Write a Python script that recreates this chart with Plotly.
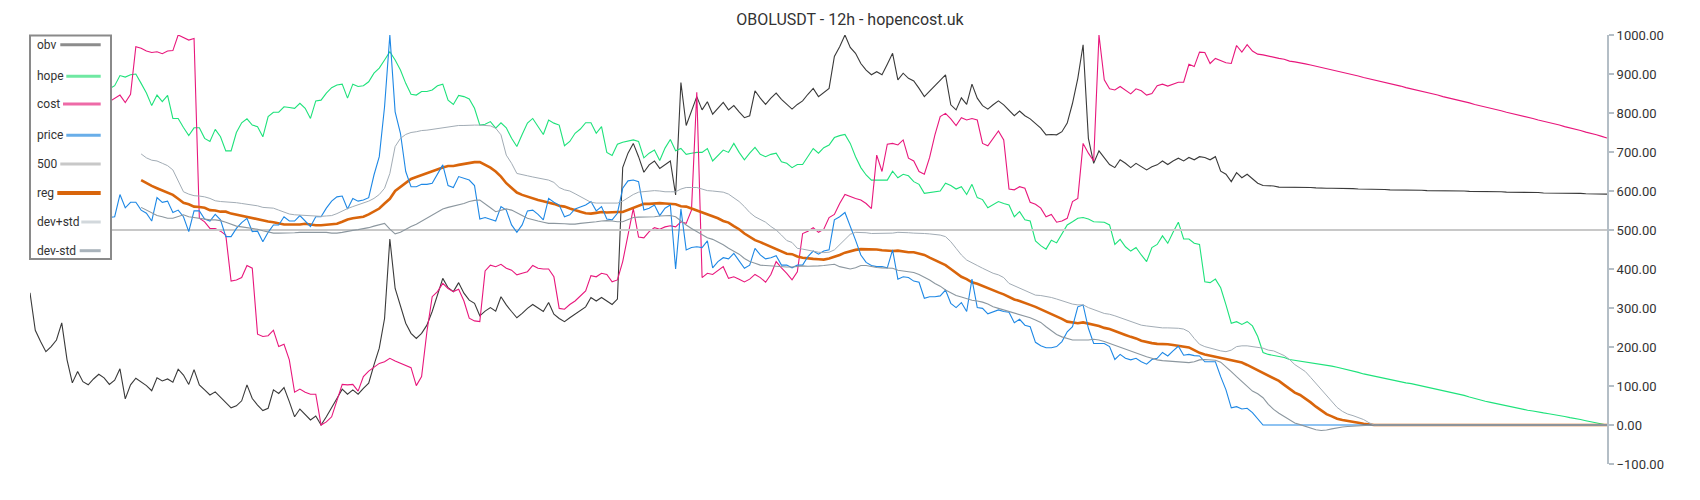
import plotly.graph_objects as go

N = 299
x_index = list(range(N))

obv = [
    339, 243, 214, 188, 201, 218, 262, 167, 108, 137,
    111, 103, 118, 130, 121, 104, 115, 144, 67, 103,
    120, 110, 101, 88, 121, 113, 118, 110, 143, 128,
    104, 142, 103, 90, 77, 85, 71, 56, 44, 49,
    62, 103, 68, 51, 37, 43, 90, 81, 96, 60,
    21, 41, 26, 13, 23, 0, 21, 43, 68, 92,
    79, 90, 79, 94, 107, 154, 197, 273, 477, 350,
    308, 261, 235, 222, 235, 256, 291, 333, 376, 352,
    342, 365, 338, 320, 312, 280, 292, 301, 292, 329,
    308, 291, 275, 286, 299, 309, 299, 291, 314, 284,
    273, 265, 275, 284, 292, 303, 327, 318, 327, 318,
    309, 323, 660, 697, 722, 688, 648, 667, 677, 658,
    667, 677, 590, 878, 768, 803, 842, 808, 829, 797,
    812, 827, 808, 819, 803, 788, 793, 857, 838, 822,
    838, 851, 835, 822, 810, 822, 831, 848, 863, 842,
    853, 863, 945, 970, 1000, 968, 953, 927, 910, 898,
    906, 898, 925, 953, 885, 902, 889, 882, 863, 842,
    856, 870, 885, 898, 821, 808, 839, 822, 874, 838,
    819, 810, 821, 831, 821, 808, 793, 805, 793, 785,
    774, 761, 744, 745, 744, 752, 774, 825, 889, 975,
    735, 671, 703, 684, 668, 660, 680, 671, 660, 671,
    662, 654, 662, 667, 677, 668, 677, 684, 677, 686,
    680, 688, 686, 680, 688, 651, 643, 624, 647, 634,
    643, 631, 620, 614, 614, 613, 610, 610, 610, 610,
    609, 609, 609, 608, 607, 607, 607, 607, 606, 606,
    606, 605, 605, 604, 604, 604, 604, 603, 603, 603,
    603, 602, 602, 602, 601, 601, 601, 601, 600, 600,
    600, 600, 599, 599, 599, 598, 598, 598, 598, 597,
    597, 597, 596, 596, 596, 596, 595, 595, 595, 595,
    594, 594, 594, 594, 593, 593, 593, 592, 592,
]

hope = [
    850, 862, 871, 858, 866, 880, 868, 875, 860, 852,
    866, 872, 858, 864, 870, 862, 870, 896, 892, 898,
    900, 876, 851, 819, 846, 829, 845, 786, 786, 763,
    742, 762, 762, 735, 727, 758, 739, 703, 703, 750,
    775, 785, 769, 765, 739, 791, 802, 802, 816, 814,
    812, 825, 812, 786, 831, 833, 851, 865, 872, 874,
    838, 874, 868, 870, 880, 902, 915, 936, 957, 936,
    910, 876, 848, 846, 855, 855, 859, 870, 874, 833,
    822, 845, 842, 836, 812, 769, 771, 778, 761, 775,
    762, 735, 714, 745, 774, 786, 765, 745, 782, 774,
    769, 716, 727, 748, 759, 775, 775, 748, 765, 699,
    691, 720, 725, 728, 731, 727, 685, 697, 705, 678,
    710, 732, 703, 709, 694, 697, 699, 699, 709, 677,
    691, 705, 699, 722, 699, 680, 697, 712, 694, 688,
    694, 697, 675, 671, 660, 668, 668, 688, 709, 697,
    711, 718, 737, 742, 745, 722, 688, 660, 641, 628,
    628, 627, 628, 651, 634, 643, 639, 624, 617, 594,
    596, 598, 600, 620, 614, 605, 611, 591, 617, 583,
    578, 557, 564, 573, 568, 564, 534, 547, 526, 523,
    472, 460, 451, 474, 467, 489, 513, 521, 530, 532,
    528, 521, 521, 520, 513, 463, 476, 457, 446, 455,
    436, 419, 455, 463, 485, 466, 494, 520, 477, 477,
    466, 463, 367, 365, 374, 352, 308, 261, 265, 258,
    265, 254, 227, 186, 181, 178, 175, 173, 168, 166,
    164, 161, 159, 157, 156, 154, 151, 148, 145, 142,
    139, 135, 131, 128, 125, 122, 119, 116, 114, 111,
    108, 106, 103, 101, 98, 95, 92, 88, 85, 82,
    79, 76, 72, 68, 64, 61, 58, 55, 52, 50,
    47, 44, 41, 38, 36, 33, 31, 29, 27, 25,
    22, 19, 17, 14, 11, 8, 5, 2, 0,
]

cost = [
    840, 846, 852, 838, 845, 850, 842, 836, 844, 838,
    832, 840, 845, 830, 836, 829, 838, 846, 827, 848,
    970, 966, 959, 955, 957, 952, 959, 960, 1000, 993,
    987, 991, 530, 521, 504, 504, 497, 487, 369, 372,
    378, 409, 402, 233, 227, 229, 243, 201, 207, 167,
    84, 92, 84, 79, 79, 0, 8, 21, 62, 104,
    103, 104, 87, 124, 138, 147, 158, 162, 171, 164,
    158, 154, 147, 101, 124, 239, 329, 342, 363, 350,
    342, 348, 318, 274, 267, 265, 395, 410, 406, 412,
    402, 397, 385, 389, 393, 409, 402, 400, 400, 380,
    299, 297, 309, 318, 332, 344, 383, 380, 389, 386,
    367, 372, 419, 487, 555, 482, 480, 496, 506, 502,
    508, 511, 508, 521, 517, 551, 853, 378, 389, 386,
    395, 406, 376, 380, 374, 367, 374, 386, 378, 366,
    386, 419, 403, 389, 372, 393, 491, 497, 506, 494,
    502, 532, 540, 568, 591, 585, 581, 577, 568, 555,
    692, 650, 720, 722, 718, 731, 684, 677, 650, 643,
    686, 744, 791, 799, 785, 768, 788, 782, 786, 782,
    722, 716, 735, 754, 731, 605, 603, 611, 607, 571,
    566, 556, 534, 540, 520, 523, 530, 573, 581, 722,
    697, 677, 1000, 885, 862, 859, 868, 859, 849, 862,
    857, 846, 850, 870, 874, 869, 874, 879, 879, 925,
    919, 956, 955, 927, 940, 934, 929, 927, 973, 956,
    975, 959, 951, 949, 946, 942, 940, 938, 933, 931,
    929, 926, 923, 920, 917, 914, 911, 908, 904, 901,
    898, 895, 891, 888, 885, 882, 878, 875, 872, 869,
    865, 862, 859, 856, 852, 849, 846, 842, 839, 836,
    832, 829, 826, 822, 819, 816, 812, 809, 806, 802,
    799, 796, 792, 789, 786, 782, 779, 776, 772, 769,
    765, 762, 758, 755, 751, 748, 744, 740, 736,
]

price = [
    545, 538, 552, 560, 548, 541, 556, 549, 538, 545,
    552, 540, 535, 533, 530, 532, 534, 591, 557, 571,
    571, 551, 543, 523, 583, 571, 574, 545, 551, 534,
    496, 549, 549, 528, 523, 540, 526, 483, 483, 504,
    519, 530, 496, 497, 470, 494, 513, 513, 534, 523,
    523, 537, 523, 509, 534, 534, 556, 574, 585, 587,
    554, 581, 574, 577, 583, 641, 688, 816, 1000, 803,
    748, 650, 611, 611, 617, 617, 620, 643, 667, 614,
    609, 637, 632, 628, 614, 528, 532, 528, 523, 560,
    551, 513, 494, 513, 549, 551, 540, 526, 581, 571,
    564, 534, 539, 554, 560, 564, 573, 549, 560, 528,
    526, 543, 607, 626, 628, 624, 551, 556, 564, 537,
    556, 564, 400, 554, 449, 455, 457, 455, 472, 403,
    419, 429, 426, 440, 421, 402, 410, 453, 436, 426,
    429, 434, 410, 410, 403, 410, 410, 432, 446, 438,
    446, 449, 526, 534, 545, 511, 474, 436, 417, 409,
    406, 406, 403, 449, 374, 380, 378, 369, 366, 325,
    329, 329, 331, 346, 312, 301, 314, 291, 374, 301,
    299, 285, 291, 295, 291, 289, 262, 271, 256, 252,
    212, 203, 198, 198, 201, 214, 239, 252, 303, 308,
    248, 209, 209, 209, 201, 168, 181, 171, 167, 171,
    162, 156, 168, 171, 186, 177, 190, 202, 179, 181,
    178, 177, 162, 162, 162, 124, 90, 44, 47, 41,
    43, 32, 15,
] + [0] * 66

level_500 = [500] * N

reg = [None] * 21 + [
    628, 620, 613, 607, 602, 597, 590, 580, 570,
    566, 560, 559, 557, 551, 550, 547, 547, 542, 539,
    536, 533, 530, 527, 525, 522, 520, 516, 514, 514,
    514, 514, 516, 514, 512, 512, 513, 514, 516, 521,
    527, 530, 532, 534, 540, 547, 555, 568, 580, 600,
    611, 622, 631, 636, 641, 647, 652, 655, 660, 664,
    664, 667, 669, 672, 674, 674, 668, 660, 650, 637,
    620, 609, 596, 590, 585, 580, 577, 574, 571, 567,
    562, 560, 555, 550, 547, 543, 542, 544, 546, 545,
    546, 546, 546, 551, 557, 562, 567, 567, 568, 569,
    568, 567, 566, 561, 560, 555, 550, 545, 540, 537,
    530, 523, 519, 510, 502, 491, 483, 474, 469, 463,
    456, 451, 445, 439, 438, 432, 429, 427, 426, 425,
    424, 427, 431, 436, 442, 446, 449, 451, 451, 451,
    450, 448, 447, 446, 447, 445, 443, 443, 440, 436,
    429, 423, 417, 410, 400, 391, 380, 374, 366, 362,
    356, 350, 345, 340, 335, 328, 322, 318, 312, 308,
    303, 297, 292, 285, 278, 272, 265, 263, 261, 263,
    260, 256, 254, 249, 246, 241, 235, 231, 226, 222,
    216, 212, 210, 208, 208, 207, 205, 203, 201, 199,
    192, 185, 181, 178, 175, 173, 169, 166, 163, 160,
    154, 147, 141, 135, 128, 121, 113, 103, 94, 83,
    77, 68, 58, 47, 37, 28, 22, 16, 13, 11,
    9, 6, 3, 1,
] + [0] * 45

dev_plus_std = [None] * 21 + [
    695, 685, 679, 677, 671, 665, 654, 628, 598,
    592, 588, 587, 585, 581, 575, 573, 572, 572, 570,
    568, 566, 563, 562, 558, 557, 556, 551, 545, 541,
    539, 538, 538, 536, 535, 535, 536, 537, 542, 549,
    555, 560, 564, 568, 574, 581, 591, 607, 645, 714,
    735, 745, 750, 752, 755, 756, 758, 761, 762, 765,
    767, 768, 768, 769, 769, 769, 768, 767, 761, 744,
    692, 671, 645, 641, 639, 636, 633, 631, 628, 622,
    609, 603, 600, 593, 585, 577, 571, 569, 569, 569,
    569, 569, 574, 583, 591, 597, 598, 600, 601, 600,
    598, 598, 598, 605, 609, 609, 609, 605, 601, 600,
    598, 597, 592, 583, 573, 560, 545, 534, 527, 520,
    509, 500, 487, 473, 468, 453, 451, 448, 446, 443,
    442, 443, 449, 462, 477, 489, 494, 494, 493, 491,
    491, 491, 491, 492, 494, 494, 493, 492, 492, 491,
    490, 489, 487, 483, 470, 453, 436, 423, 415, 409,
    402, 395, 389, 385, 378, 363, 357, 352, 346, 340,
    333, 332, 330, 327, 323, 318, 314, 310, 308, 308,
    301, 295, 291, 286, 284, 280, 275, 271, 265, 261,
    256, 254, 252, 250, 249, 249, 249, 248, 246, 239,
    222, 207, 201, 197, 192, 190, 188, 192, 201, 203,
    203, 201, 199, 197, 192, 190, 184, 178, 168, 155,
    146, 137, 122, 107, 92, 77, 60, 45, 35, 28,
    24, 20, 14, 6,
] + [0] * 45

dev_minus_std = [None] * 21 + [
    558, 551, 543, 537, 534, 530, 530, 534, 539,
    534, 532, 530, 527, 526, 526, 524, 520, 514, 510,
    508, 506, 504, 502, 498, 494, 492, 492, 492, 492,
    493, 494, 494, 494, 494, 494, 494, 492, 492, 494,
    497, 499, 501, 503, 506, 510, 514, 517, 502, 490,
    494, 502, 509, 515, 523, 532, 540, 547, 554, 558,
    561, 564, 568, 573, 576, 577, 568, 557, 547, 551,
    554, 551, 545, 537, 530, 526, 523, 520, 517, 517,
    517, 516, 515, 515, 517, 518, 520, 521, 523, 524,
    523, 521, 521, 526, 532, 533, 533, 534, 534, 536,
    537, 537, 534, 523, 513, 504, 496, 487, 480, 476,
    470, 462, 453, 446, 438, 427, 419, 415, 410, 409,
    408, 407, 405, 405, 405, 407, 408, 407, 407, 408,
    409, 410, 412, 406, 402, 400, 403, 409, 409, 406,
    404, 403, 403, 402, 397, 395, 393, 391, 386, 380,
    372, 363, 356, 346, 338, 332, 328, 323, 320, 318,
    315, 310, 303, 299, 295, 292, 289, 284, 280, 275,
    269, 263, 252, 241, 232, 226, 222, 218, 218, 218,
    218, 220, 218, 214, 209, 203, 198, 194, 190, 185,
    180, 175, 171, 167, 165, 164, 162, 161, 161, 160,
    162, 167, 168, 167, 166, 161, 150, 137, 124, 111,
    100, 87, 80, 70, 53, 40, 30, 21, 13, 5,
    1, -4, -9, -12, -14, -13, -10, -7, -5, -4,
    -3, -2, -1, 0,
] + [0] * 45

series_names = ["obv", "hope", "cost", "price", "500", "reg", "dev+std", "dev-std"]
series_values = [obv, hope, cost, price, level_500, reg, dev_plus_std, dev_minus_std]

# styles
line_colors = ["#3a3a3a", "#1ee27b", "#e8177c", "#1e88e5", "#c8c8c8", "#d9650b", "#a2acb5", "#8c979f"]
line_widths = [1.1, 1.1, 1.1, 1.1, 2, 2.6, 1, 1.1]
legend_colors = ["#8c8c8c", "#6fe8a2", "#ee6aa7", "#69aee9", "#c8c8c8", "#d9650b", "#d2d8dc", "#a9b3bb"]
draw_order = [0, 1, 2, 4, 5, 3, 6, 7]

# page body has an 8px margin, so the figure is laid out 8px in from the window edge
OFF = 8
W, H = 1684, 484
PL, PR, PT, PB = 30 - OFF, 1607 - OFF, 35 - OFF, 464 - OFF

fig = go.Figure()
for k in draw_order:
    fig.add_trace(go.Scatter(x=x_index, y=series_values[k], mode="lines", name=series_names[k],
                             line=dict(color=line_colors[k], width=line_widths[k]),
                             showlegend=False, connectgaps=False, hoverinfo="skip"))


def px_x(p):
    return (p - OFF - PL) / (PR - PL)


def px_y(p):
    return (PB - (p - OFF)) / (PB - PT)


shapes = [dict(type="rect", xref="paper", yref="paper",
               x0=px_x(30), x1=px_x(111), y0=px_y(259), y1=px_y(35.5),
               fillcolor="white", line=dict(color="#8a8a8a", width=2), layer="above")]
annotations = []
item_y = [44.7, 76.3, 104, 135.3, 164, 193, 222, 250.7]
item_x0 = [60.3, 66.3, 63, 66.3, 60.3, 57.3, 81.3, 79.7]
for name, yy, x0, col in zip(series_names, item_y, item_x0, legend_colors):
    shapes.append(dict(type="line", xref="paper", yref="paper",
                       x0=px_x(x0), x1=px_x(100.7), y0=px_y(yy), y1=px_y(yy),
                       line=dict(color=col, width=4 if name == "reg" else 3), layer="above"))
    annotations.append(dict(text=name, xref="paper", yref="paper", x=px_x(34.5), y=px_y(yy),
                            xanchor="left", yanchor="middle", showarrow=False,
                            font=dict(family="Roboto", size=12, color="#333333")))

fig.update_layout(
    width=W, height=H, autosize=False,
    margin=dict(l=PL, r=W - PR, t=PT, b=H - PB, pad=0),
    paper_bgcolor="white", plot_bgcolor="white",
    title=dict(text="OBOLUSDT - 12h - hopencost.uk", x=(850 - OFF) / W, xref="container",
               xanchor="center", y=1 - (19 - OFF) / H, yref="container", yanchor="middle",
               font=dict(family="Roboto", size=16, color="#333333")),
    xaxis=dict(visible=False, range=[0, N - 1], fixedrange=True),
    yaxis=dict(side="right", range=[-100, 1000], dtick=100, tick0=0, tickformat=".2f",
               showline=True, linecolor="#b4bec6", linewidth=2, ticks="outside", ticklen=5,
               tickwidth=1.5, tickcolor="#b4bec6", showgrid=False, zeroline=False,
               tickfont=dict(family="Roboto", size=13, color="#333333"), fixedrange=True),
    shapes=shapes, annotations=annotations,
    showlegend=False,
    font=dict(family="Roboto"),
)

fig.write_html("out.html")
